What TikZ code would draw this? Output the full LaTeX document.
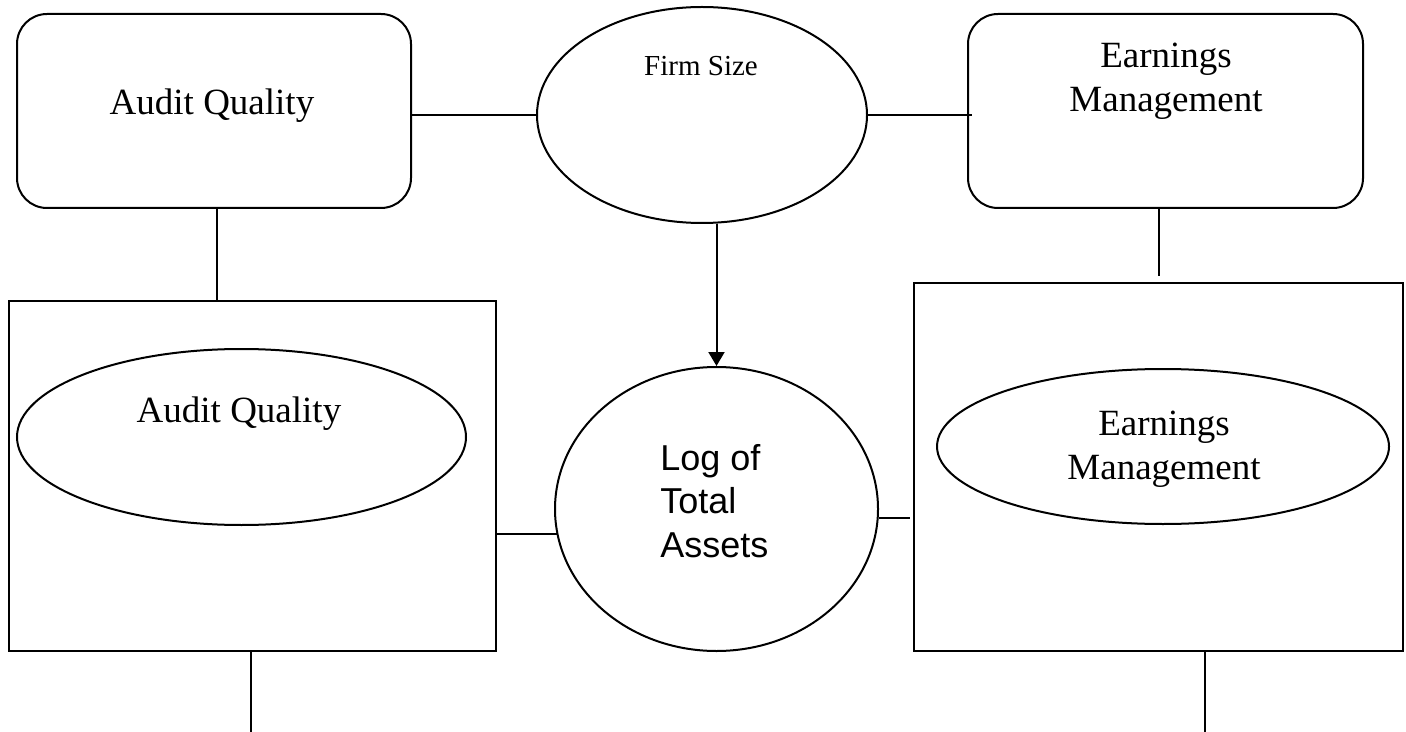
\documentclass[tikz,border=0pt]{standalone}
\usepackage{fontspec}
\setmainfont{Liberation Serif}
\newfontfamily\arialfont{Liberation Sans}
\usetikzlibrary{shapes.geometric,arrows.meta}

\tikzset{
  shapeline/.style={draw=black, line width=1pt, inner sep=0pt},
  roundbox/.style={shapeline, rectangle, rounded corners=15pt},
  squarebox/.style={shapeline, rectangle},
  oval/.style={shapeline, ellipse},
  bigtext/.style={inner sep=0pt, anchor=base, align=center,
    font=\fontsize{18.5}{22}\selectfont},
  smalltext/.style={inner sep=0pt, anchor=base,
    font=\fontsize{14.5}{17}\selectfont},
  sanstext/.style={inner sep=0pt, anchor=base west, align=left,
    font=\arialfont\fontsize{18}{21.75}\selectfont},
  link/.style={draw=black, line width=1pt},
}

\begin{document}
\begin{tikzpicture}[x=0.5pt, y=-0.5pt]
\useasboundingbox (0,0) rectangle (1406,732);

% top row
\node[roundbox, minimum width=197pt, minimum height=97pt] (aq) at (214,111) {};
\node[oval, minimum width=165pt, minimum height=108pt] (firm) at (702,115) {};
\node[roundbox, minimum width=197.5pt, minimum height=97pt] (em) at (1165.5,111) {};

% lower row
\node[squarebox, minimum width=243.5pt, minimum height=175pt] (lsq) at (252.5,476) {};
\node[oval, minimum width=224.5pt, minimum height=88pt] (aqe) at (241.5,437) {};
\node[oval, minimum width=161.5pt, minimum height=142pt] (log) at (716.5,509) {};
\node[squarebox, minimum width=244.5pt, minimum height=184pt] (rsq) at (1158.5,467) {};
\node[oval, minimum width=226pt, minimum height=77.5pt] (eme) at (1163,446.5) {};

% labels (multi-line labels sit on the baseline of their last line)
\node[bigtext] (aqt) at (212,115) {Audit Quality};
\node[smalltext] (firmt) at (701,76) {Firm Size};
\node[bigtext] (emt) at (1166,112) {Earnings\\Management};
\node[bigtext] (aqet) at (239,422) {Audit Quality};
\node[bigtext] (emet) at (1164,479) {Earnings\\Management};
\node[sanstext] (logt) at (660,557) {Log of\\Total\\Assets};

% free ends at the lower edge
\coordinate (lend) at (251,732);
\coordinate (rend) at (1205,732);

% connectors
\draw[link] (aq.east |- firm.west) -- (firm.west);
\draw[link] (firm.east) -- ([xshift=2.5pt]em.west |- firm.east);
\draw[link] ([xshift=1.5pt]aq.south) -- ([xshift=1.5pt]aq.south |- lsq.north);
\draw[link] (em.south -| rsq.north) -- ([yshift=3pt]rsq.north);
\draw[link, -{Triangle[length=7pt,width=8pt]}] (firm.south -| log.north) -- (log.north);
\draw[link] (lsq.east |- log.189.7) -- (log.189.7);
\draw[link, shorten >=1.5pt] (log.-3.2) -- (log.-3.2 -| rsq.west);
\draw[link] (lend |- lsq.south) -- (lend);
\draw[link] (rend |- rsq.south) -- (rend);
\end{tikzpicture}
\end{document}
